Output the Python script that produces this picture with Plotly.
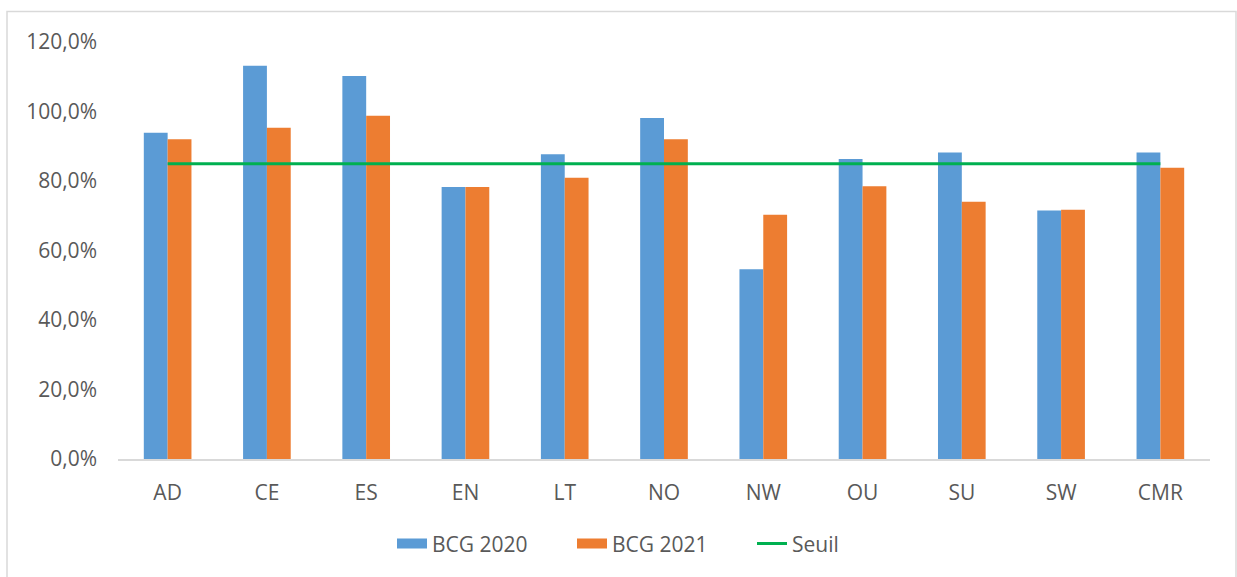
import plotly.graph_objects as go

categories = ["AD", "CE", "ES", "EN", "LT", "NO", "NW", "OU", "SU", "SW", "CMR"]
bcg_2020 = [93.9, 113.2, 110.2, 78.3, 87.7, 98.1, 54.6, 86.3, 88.2, 71.5, 88.2]
bcg_2021 = [92.0, 95.3, 98.8, 78.3, 80.9, 92.0, 70.3, 78.5, 74.0, 71.7, 83.8]
seuil = [85.0] * len(categories)
y_ticks = [0, 20, 40, 60, 80, 100, 120]
y_tick_labels = ["0,0%", "20,0%", "40,0%", "60,0%", "80,0%", "100,0%", "120,0%"]

FONT = "Open Sans"
TXT = "#595959"
BLUE, ORANGE, GREEN = "#5B9BD5", "#ED7D31", "#00B050"

fig = go.Figure()
fig.add_trace(go.Bar(x=categories, y=bcg_2020, name="BCG 2020", showlegend=False,
                     marker=dict(color=BLUE, line=dict(width=0))))
fig.add_trace(go.Bar(x=categories, y=bcg_2021, name="BCG 2021", showlegend=False,
                     marker=dict(color=ORANGE, line=dict(width=0))))
fig.add_trace(go.Scatter(x=categories, y=seuil, name="Seuil", mode="lines", showlegend=False,
                         line=dict(color=GREEN, width=3)))
# legend entries (wide swatches like the original)
fig.add_trace(go.Scatter(x=[None], y=[None], name="BCG 2020", mode="lines",
                         line=dict(color=BLUE, width=13)))
fig.add_trace(go.Scatter(x=[None], y=[None], name="BCG 2021", mode="lines",
                         line=dict(color=ORANGE, width=13)))
fig.add_trace(go.Scatter(x=[None], y=[None], name="Seuil", mode="lines",
                         line=dict(color=GREEN, width=3)))

L, R = 118, 1210
T, B = 41.7, 462.3
W, H = 1237, 577
pw, ph = R - L, B - T

def px_x(x):
    return (x - L) / pw

def px_y(y):
    return (B - y) / ph

fig.update_layout(
    width=W, height=H,
    margin=dict(l=L, r=W - R, t=T, b=H - B),
    paper_bgcolor="white", plot_bgcolor="white",
    barmode="group", bargap=0.52, bargroupgap=0,
    font=dict(family=FONT, size=21, color=TXT),
    showlegend=True,
    legend=dict(orientation="h", x=px_x(662), xanchor="center",
                y=px_y(548), yanchor="middle",
                font=dict(family=FONT, size=21, color=TXT),
                entrywidth=135, entrywidthmode="pixels",
                tracegroupgap=0, traceorder="normal"),
    xaxis=dict(showgrid=False, showline=True, linecolor="#d9d9d9", linewidth=1.5,
               ticks="", ticklabelstandoff=14,
               tickfont=dict(family=FONT, size=21, color=TXT),
               fixedrange=True),
    yaxis=dict(range=[0, 120], tickvals=y_ticks, ticktext=y_tick_labels,
               showgrid=False, zeroline=False, showline=False, ticks="",
               ticklabelstandoff=20,
               tickfont=dict(family=FONT, size=21, color=TXT)),
    shapes=[dict(type="rect", xref="paper", yref="paper",
                 x0=px_x(7), x1=px_x(1236), y0=px_y(590), y1=px_y(11),
                 line=dict(color="#d9d9d9", width=1.5), fillcolor="rgba(0,0,0,0)",
                 layer="below")],
)

fig.write_html("out.html")
